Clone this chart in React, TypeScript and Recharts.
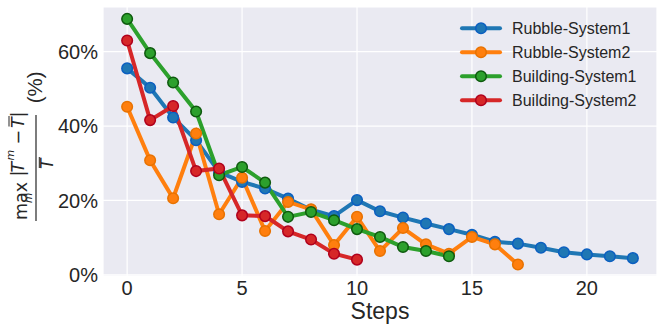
import { LineChart, Line, XAxis, YAxis, CartesianGrid, Legend } from "recharts";

const steps = [0, 1, 2, 3, 4, 5, 6, 7, 8, 9, 10, 11, 12, 13, 14, 15, 16, 17, 18, 19, 20, 21, 22];
const rubble1 = [55.5, 50.3, 42.3, 36.2, 27.6, 25.0, 23.2, 20.5, 17.5, 15.8, 20.1, 17.1, 15.4, 13.8, 12.3, 10.8, 8.9, 8.4, 7.3, 6.1, 5.5, 5.0, 4.5];
const rubble2 = [45.2, 30.8, 20.6, 38.0, 16.3, 26.1, 11.8, 19.6, 17.6, 8.0, 15.6, 6.4, 12.6, 8.2, 5.7, 10.2, 8.2, 2.8];
const building1 = [68.8, 59.6, 51.7, 43.9, 26.8, 29.0, 24.8, 15.6, 16.9, 14.7, 12.3, 10.2, 7.5, 6.4, 5.0];
const building2 = [63.0, 41.6, 45.4, 27.9, 28.6, 16.0, 15.8, 11.7, 9.5, 5.7, 4.1];
const xTicks = [0, 5, 10, 15, 20];
const yTicks = [0, 20, 40, 60];

const series = [
  { key: "rubble1", name: "Rubble-System1", color: "#1f77b4", edge: "#0b5fc0", values: rubble1 },
  { key: "rubble2", name: "Rubble-System2", color: "#ff7f0e", edge: "#e87200", values: rubble2 },
  { key: "building1", name: "Building-System1", color: "#2ca02c", edge: "#0e5a0e", values: building1 },
  { key: "building2", name: "Building-System2", color: "#d62728", edge: "#b0001c", values: building2 },
];

const rows = steps.map((s, i) => {
  const row: Record<string, number | undefined> = { step: s };
  series.forEach(sr => { row[sr.key] = sr.values[i]; });
  return row;
});

const tickFont = { fontSize: 20, fill: "#262626", fontFamily: "Liberation Sans, Arial, sans-serif" };

function YMathLabel() {
  const m = { fontFamily: "DejaVu Sans", fill: "#262626" };
  return (
    <g transform="translate(36,168) rotate(-90)">
      <text x={-52} y={-9.3} fontSize={17.5} {...m}>max</text>
      <text x={-30} y={-4} fontSize={10.5} textAnchor="middle" fontStyle="italic" {...m}>m</text>
      <text x={-8.5} y={-12} fontSize={17.5} {...m}>|</text>
      <text x={-4.5} y={-12} fontSize={17.5} fontStyle="italic" {...m}>T</text>
      <text x={7.5} y={-22.5} fontSize={11} fontStyle="italic" {...m}>m</text>
      <text x={23.5} y={-12} fontSize={17.5} {...m}>−</text>
      <text x={40} y={-12} fontSize={17.5} fontStyle="italic" {...m}>T</text>
      <line x1={41.5} x2={52} y1={-27} y2={-27} stroke="#262626" strokeWidth={1} />
      <text x={50.5} y={-12} fontSize={17.5} {...m}>|</text>
      <line x1={-53} x2={53} y1={0} y2={0} stroke="#262626" strokeWidth={1.2} />
      <text x={-1} y={16.5} fontSize={17} fontStyle="italic" {...m}>T</text>
      <line x1={0} x2={11} y1={3.3} y2={3.3} stroke="#262626" strokeWidth={1} />
      <text x={64.7} y={6.4} fontSize={20.5} fontFamily="Liberation Sans, Arial, sans-serif" fill="#262626">(%)</text>
    </g>
  );
}

function LegendBox() {
  return (
    <svg width={200} height={100}>
      {series.map((s, i) => {
        const y = 14.3 + i * 24;
        return (
          <g key={s.key}>
            <line x1={7} x2={45} y1={y} y2={y} stroke={s.color} strokeWidth={4} strokeLinecap="round" />
            <circle cx={26} cy={y} r={5.3} fill={s.color} stroke={s.edge} strokeWidth={1.5} />
            <text x={57} y={y} dominantBaseline="central" fontSize={16} fill="#262626" fontFamily="Liberation Sans, Arial, sans-serif">{s.name}</text>
          </g>
        );
      })}
    </svg>
  );
}

export default function App() {
  return (
    <div style={{ position: "absolute", left: 0, top: 0, width: 664, height: 330, background: "#fff" }}>
      <LineChart width={664} height={330} data={rows} margin={{ top: 7, right: 7, bottom: 0, left: 0 }}>
        <CartesianGrid fill="#EAEAF2" stroke="#ffffff" strokeWidth={1.2} />
        <XAxis
          type="number"
          dataKey="step"
          domain={[-1.05, 23.05]}
          ticks={xTicks}
          allowDataOverflow
          tickLine={false}
          axisLine={false}
          tickSize={0}
          tickMargin={5}
          height={54}
          tick={tickFont}
          label={{
            content: () => (
              <text x={380} y={319.3} textAnchor="middle" fontSize={23} fill="#262626" fontFamily="Liberation Sans, Arial, sans-serif">Steps</text>
            ),
          }}
        />
        <YAxis
          type="number"
          domain={[-0.3, 72]}
          ticks={yTicks}
          allowDataOverflow
          tickFormatter={(v) => `${v}%`}
          tickLine={false}
          axisLine={false}
          tickSize={0}
          tickMargin={5}
          width={103}
          tick={tickFont}
          label={{ content: () => <YMathLabel /> }}
        />
        <Legend
          layout="horizontal"
          verticalAlign="middle"
          align="center"
          wrapperStyle={{ position: "absolute", left: 455, top: 14, width: 200, height: 100 }}
          content={() => <LegendBox />}
        />
        {series.map(s => (
          <Line
            key={s.key}
            dataKey={s.key}
            name={s.name}
            stroke={s.color}
            strokeWidth={4}
            dot={{ r: 5.3, fill: s.color, stroke: s.edge, strokeWidth: 1.5 }}
            activeDot={false}
            isAnimationActive={false}
          />
        ))}
      </LineChart>
    </div>
  );
}
